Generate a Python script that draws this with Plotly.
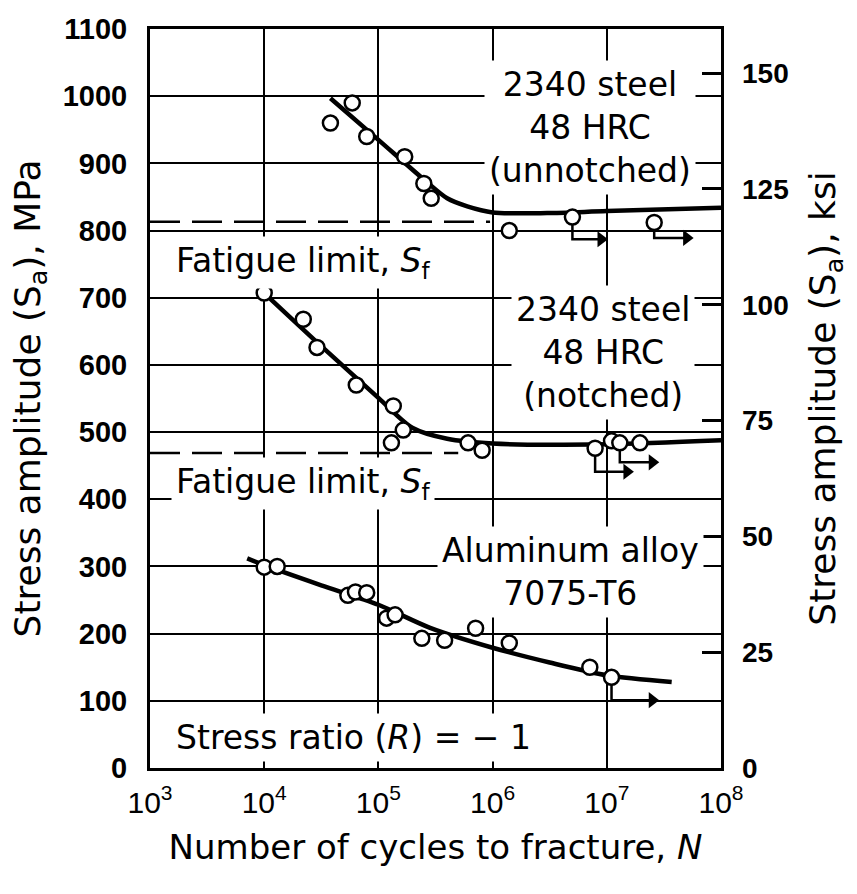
import plotly.graph_objects as go

# ---------------- data ----------------
unnotched_N = [3.8e4, 5.9e4, 7.9e4, 1.7e5, 2.5e5, 2.9e5, 1.4e6, 5.0e6, 2.6e7]
unnotched_S = [960, 990, 940, 910, 870, 848, 800, 820, 812]
unnotched_curve_N = [3.8e4, 1e5, 2.5e5, 4e5, 6e5, 1e6, 3e6, 1e7, 1e8]
unnotched_curve_S = [997, 935, 876, 848, 836, 827, 826, 829, 834]

notched_N = [1.0e4, 2.2e4, 2.9e4, 6.4e4, 1.35e5, 1.65e5, 1.3e5, 6.1e5, 8.1e5,
             7.9e6, 1.1e7, 1.3e7, 1.95e7]
notched_S = [707, 668, 626, 570, 539, 503, 484, 484, 473,
             476, 487, 484, 484]
notched_curve_N = [1e4, 3.16e4, 1e5, 2e5, 4e5, 1e6, 1e7, 1e8]
notched_curve_S = [707, 628, 551, 506, 490, 483, 482, 488]

alu_N = [1.0e4, 1.3e4, 5.4e4, 6.3e4, 7.9e4, 1.18e5, 1.4e5, 2.4e5, 3.8e5,
         7.1e5, 1.4e6, 7.1e6, 1.1e7]
alu_S = [299, 300, 257, 262, 261, 223, 228, 193, 190,
         208, 186, 150, 135]
alu_curve_N = [7.1e3, 1e4, 3.16e4, 1e5, 2.8e5, 1e6, 3.16e6, 1e7, 3.7e7]
alu_curve_S = [312, 302, 272, 243, 209, 179, 157, 138, 128]

fatigue_limit_S = [813, 469]
fatigue_limit_N_start = [1e3, 1e3]
fatigue_limit_N_end = [9.5e5, 5.0e5]

runout_N = [5.0e6, 2.6e7, 7.9e6, 1.3e7, 1.1e7]
runout_S = [820, 812, 476, 484, 135]
runout_S_low = [787, 789, 441, 455, 101]
runout_N_end = [8.9e6, 5.0e7, 1.5e7, 2.5e7, 2.5e7]

x_tick_exponents = [3, 4, 5, 6, 7, 8]
mpa_ticks = [0, 100, 200, 300, 400, 500, 600, 700, 800, 900, 1000, 1100]
ksi_ticks = [0, 25, 50, 75, 100, 125, 150]
MPA_PER_KSI = 6.895

# ---------------- figure ----------------
fig = go.Figure()

TXT = "DejaVu Sans, Liberation Sans, Arial, sans-serif"
TICKF = "Liberation Sans, Arial, sans-serif"

# fatigue limit dashed lines
for s, n0, n1 in zip(fatigue_limit_S, fatigue_limit_N_start, fatigue_limit_N_end):
    fig.add_trace(go.Scatter(x=[n0, n1], y=[s, s], mode="lines",
                             line=dict(color="black", width=2.5, dash="30px,12px"),
                             showlegend=False, hoverinfo="skip"))

# fitted curves
for cn, cs in [(unnotched_curve_N, unnotched_curve_S),
               (notched_curve_N, notched_curve_S),
               (alu_curve_N, alu_curve_S)]:
    fig.add_trace(go.Scatter(x=cn, y=cs, mode="lines",
                             line=dict(color="black", width=4.5, shape="spline", smoothing=0.8),
                             showlegend=False, hoverinfo="skip"))

# run-out paths
rx, ry = [], []
for n, s, sl, ne in zip(runout_N, runout_S, runout_S_low, runout_N_end):
    rx += [n, n, ne, None]
    ry += [s, sl, sl, None]
fig.add_trace(go.Scatter(x=rx, y=ry, mode="lines",
                         line=dict(color="black", width=2.5),
                         showlegend=False, hoverinfo="skip"))
fig.add_trace(go.Scatter(x=runout_N_end, y=runout_S_low, mode="markers",
                         marker=dict(symbol="triangle-right", size=14, color="black"),
                         showlegend=False, hoverinfo="skip"))

# data points
for pn, ps in [(unnotched_N, unnotched_S), (notched_N, notched_S), (alu_N, alu_S)]:
    fig.add_trace(go.Scatter(x=pn, y=ps, mode="markers",
                             marker=dict(symbol="circle", size=15, color="white",
                                         line=dict(color="black", width=2.5)),
                             showlegend=False, hoverinfo="skip"))

# ksi axis carrier (invisible)
fig.add_trace(go.Scatter(x=[1e3], y=[0], yaxis="y2", mode="markers",
                         marker=dict(opacity=0), showlegend=False, hoverinfo="skip"))

ann_common = dict(xref="x", yref="y", showarrow=False, bgcolor="white",
                  borderpad=4, font=dict(family=TXT, size=33, color="black"))
annotations = [
    dict(text="2340 steel<br>48 HRC<br>(unnotched)", x=6.853, y=954,
         xanchor="center", yanchor="middle", align="center", **ann_common),
    dict(text="2340 steel<br>48 HRC<br>(notched)", x=6.967, y=618,
         xanchor="center", yanchor="middle", align="center", **ann_common),
    dict(text="Aluminum alloy<br>7075-T6", x=6.678, y=292,
         xanchor="center", yanchor="middle", align="center", **ann_common),
    dict(text="Fatigue limit, <i>S</i><sub>f</sub>", x=3.184, y=753,
         xanchor="left", yanchor="middle", **ann_common),
    dict(text="Fatigue limit, <i>S</i><sub>f</sub>", x=3.184, y=424,
         xanchor="left", yanchor="middle", **ann_common),
    dict(text="Stress ratio (<i>R</i>) = \u2212 1", x=3.184, y=46,
         xanchor="left", yanchor="middle", **ann_common),
]

fig.update_layout(
    width=857, height=894,
    margin=dict(l=150, r=136, t=29, b=126),
    paper_bgcolor="white", plot_bgcolor="white",
    showlegend=False,
    annotations=annotations,
    xaxis=dict(
        type="log", range=[3, 8],
        tickvals=[10 ** e for e in x_tick_exponents],
        ticktext=[f"10<sup>{e}</sup>" for e in x_tick_exponents],
        tickfont=dict(family=TICKF, size=30, color="black"),
        ticks="", ticklabelstandoff=6,
        showgrid=True, gridcolor="black", gridwidth=2,
        showline=True, linecolor="black", linewidth=3, mirror=True,
        zeroline=False,
        title=dict(text="Number of cycles to fracture, <i>N</i>",
                   font=dict(family=TXT, size=34, color="black"), standoff=18),
    ),
    yaxis=dict(
        range=[0, 1100], tickvals=mpa_ticks,
        tickfont=dict(family=TICKF, size=29, color="black", weight="bold"),
        ticks="", ticklabelstandoff=14,
        showgrid=True, gridcolor="black", gridwidth=2,
        showline=True, linecolor="black", linewidth=3, mirror=True,
        zeroline=False,
        title=dict(text="Stress amplitude (S<sub>a</sub>), MPa",
                   font=dict(family=TXT, size=36, color="black"), standoff=12),
    ),
    yaxis2=dict(
        overlaying="y", side="right", anchor="x",
        range=[0, 1100 / MPA_PER_KSI], tickvals=ksi_ticks,
        tickfont=dict(family=TICKF, size=28, color="black", weight="bold"),
        ticks="inside", ticklen=19, tickwidth=2.5, tickcolor="black",
        ticklabelstandoff=20,
        showgrid=False, showline=False, zeroline=False,
        title=dict(text="Stress amplitude (S<sub>a</sub>), ksi",
                   font=dict(family=TXT, size=36, color="black"), standoff=22),
    ),
)

fig.write_html("out.html")
